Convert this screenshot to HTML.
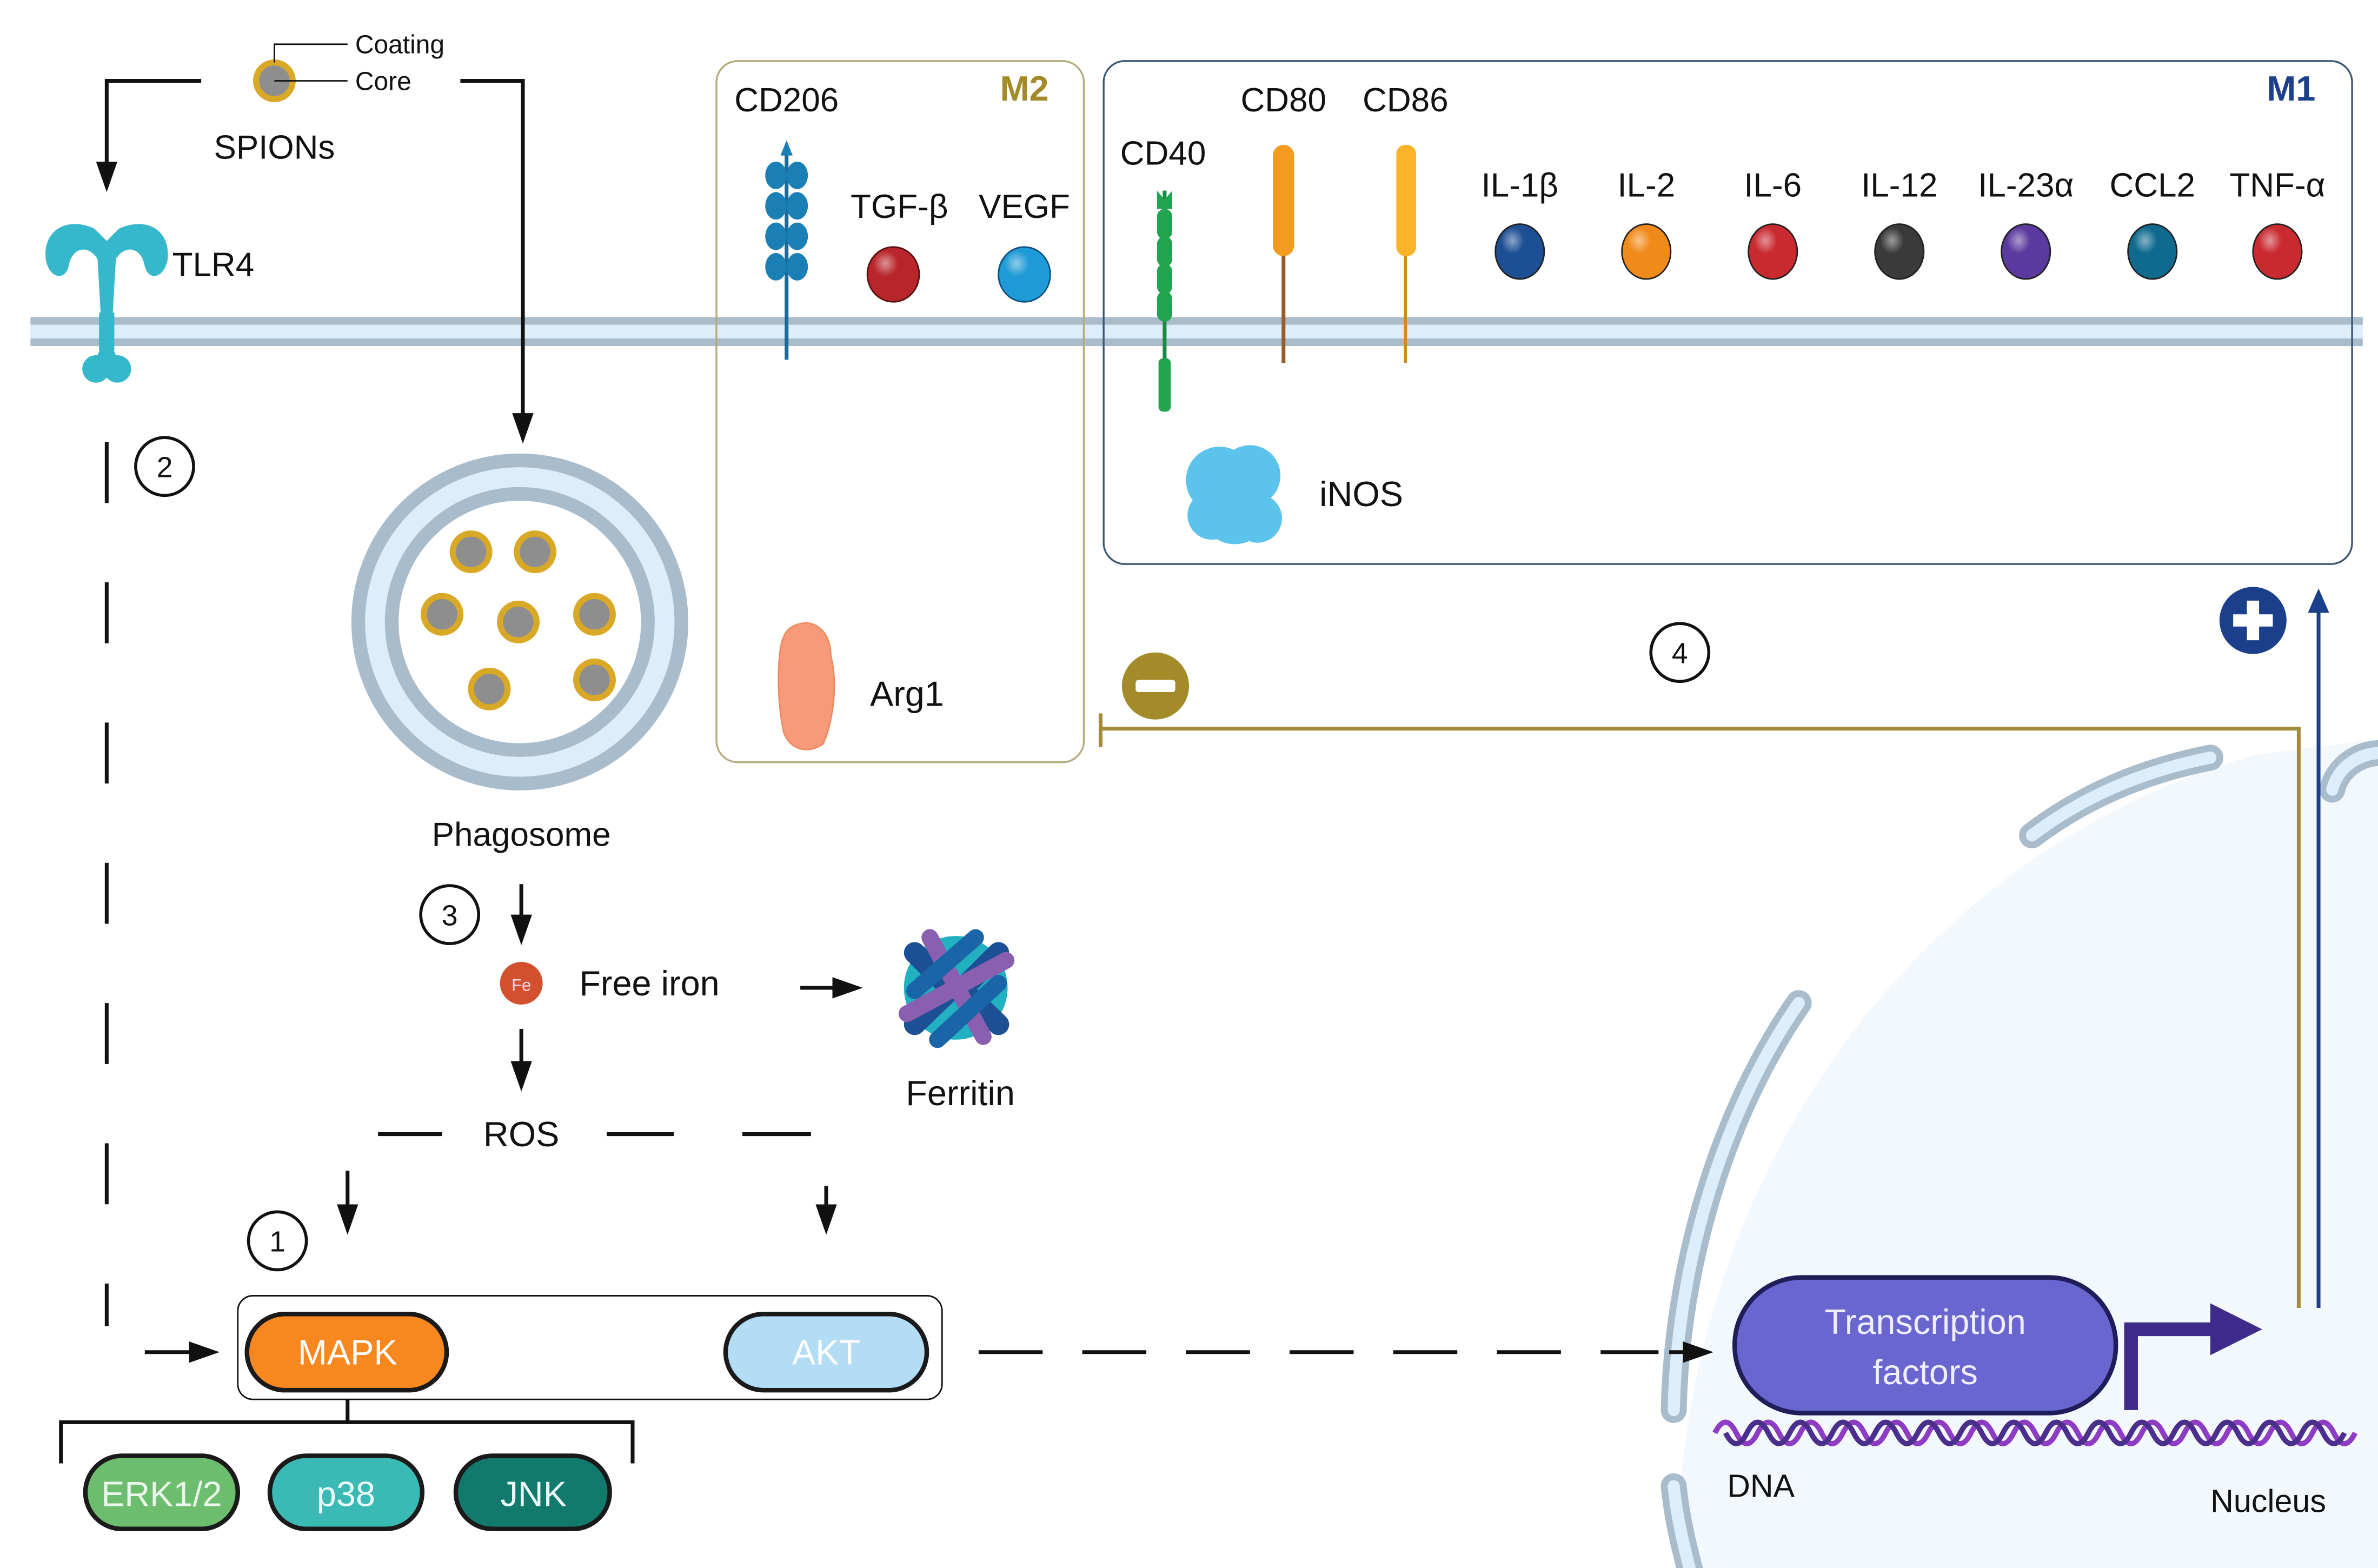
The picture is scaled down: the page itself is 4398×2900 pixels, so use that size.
<!DOCTYPE html>
<html><head><meta charset="utf-8"><style>
html,body{margin:0;padding:0;background:#fff;}
svg{display:block;}
text{font-family:"Liberation Sans",sans-serif;fill:#111;}
</style></head><body>
<svg width="4398" height="2900" viewBox="0 0 1560 1028.6" xmlns="http://www.w3.org/2000/svg">
<defs>
<marker id="ah" markerWidth="20" markerHeight="16" refX="16" refY="8" orient="auto" markerUnits="userSpaceOnUse" viewBox="0 0 20 16"><path d="M0,1 L20,8 L0,15 z" fill="#111"/></marker>
<marker id="ahb" markerWidth="16" markerHeight="14" refX="12" refY="7" orient="auto" markerUnits="userSpaceOnUse" viewBox="0 0 16 14"><path d="M0,0 L16,7 L0,14 z" fill="#1b3f8a"/></marker>
<radialGradient id="gr" cx="0.35" cy="0.3" r="0.8"><stop offset="0" stop-color="#fff" stop-opacity="0.5"/><stop offset="0.3" stop-color="#fff" stop-opacity="0"/></radialGradient>
</defs>
<path d="M1100,1028.6 C1100,780 1250,560 1480,495 L1560,485 L1560,1028.6 Z" fill="#f3f8fd"/>
<g fill="none" stroke-linecap="round">
<path d="M1098,925 C1100,830 1130,730 1180,658" stroke="#a9bccb" stroke-width="17"/>
<path d="M1098,925 C1100,830 1130,730 1180,658" stroke="#dceefb" stroke-width="8"/>
<path d="M1333,548 C1370,520 1410,505 1450,497" stroke="#a9bccb" stroke-width="17"/>
<path d="M1333,548 C1370,520 1410,505 1450,497" stroke="#dceefb" stroke-width="8"/>
<path d="M1530,518 C1533,505 1545,495 1560,494" stroke="#a9bccb" stroke-width="17"/>
<path d="M1530,518 C1533,505 1545,495 1560,494" stroke="#dceefb" stroke-width="8"/>
<path d="M1098,975 C1100,995 1104,1012 1110,1035" stroke="#a9bccb" stroke-width="17"/>
<path d="M1098,975 C1100,995 1104,1012 1110,1035" stroke="#dceefb" stroke-width="8"/>
</g>
<rect x="20" y="209" width="1530" height="17" fill="#ddeefa"/>
<rect x="20" y="208" width="1530" height="5" fill="#a9bccb"/>
<rect x="20" y="222" width="1530" height="5" fill="#a9bccb"/>
<rect x="470" y="40" width="241" height="460" rx="14" fill="none" stroke="#b5a97a" stroke-width="1.2"/>
<text x="672" y="66" font-size="23" font-weight="bold" style="fill:#a38b2a" text-anchor="middle">M2</text>
<rect x="724" y="40" width="819" height="330" rx="14" fill="none" stroke="#3b5778" stroke-width="1.2"/>
<text x="1503" y="66" font-size="23" font-weight="bold" style="fill:#1b3f8a" text-anchor="middle">M1</text>
<circle cx="180" cy="53" r="12" fill="#8e8e8e" stroke="#d9a826" stroke-width="4"/>
<path d="M180,41 V29 H228 M180,53 H228" stroke="#111" stroke-width="1" fill="none"/>
<text x="233" y="35" font-size="17">Coating</text>
<text x="233" y="59" font-size="17">Core</text>
<text x="180" y="104" font-size="22" text-anchor="middle">SPIONs</text>
<path d="M132,53 H70 V122" stroke="#111" stroke-width="2.5" fill="none" marker-end="url(#ah)"/>
<path d="M302,53 H343 V287" stroke="#111" stroke-width="2.5" fill="none" marker-end="url(#ah)"/>
<g fill="#35b7cc">
<path d="M30,170 C28,150 45,142 62,150 L70,158 L78,150 C95,142 112,150 110,170 C108,182 98,185 95,175 C93,162 82,160 76,170 L74,205 L66,205 L64,170 C58,160 47,162 45,175 C42,185 32,182 30,170 Z"/>
<rect x="65" y="205" width="10" height="25"/>
<circle cx="63" cy="242" r="9"/><circle cx="77" cy="242" r="9"/><circle cx="70" cy="234" r="6"/>
</g>
<text x="113" y="181" font-size="22">TLR4</text>
<path d="M70,290 V870" stroke="#111" stroke-width="2.5" stroke-dasharray="40,52" fill="none"/>
<path d="M95,887 H140" stroke="#111" stroke-width="2.5" marker-end="url(#ah)"/>
<g font-size="19" text-anchor="middle">
<circle cx="108" cy="306" r="19" fill="#fff" stroke="#111" stroke-width="2"/><text x="108" y="313">2</text>
<circle cx="295" cy="600" r="19" fill="#fff" stroke="#111" stroke-width="2"/><text x="295" y="607">3</text>
<circle cx="182" cy="814" r="19" fill="#fff" stroke="#111" stroke-width="2"/><text x="182" y="821">1</text>
<circle cx="1102" cy="428" r="19" fill="#fff" stroke="#111" stroke-width="2"/><text x="1102" y="435">4</text>
</g>
<circle cx="341" cy="408" r="106" fill="#ddeefa" stroke="#a9bccb" stroke-width="9"/>
<circle cx="341" cy="408" r="84" fill="#fff" stroke="#a9bccb" stroke-width="9"/>
<g fill="#8e8e8e" stroke="#d9a826" stroke-width="4">
<circle cx="309" cy="362" r="12"/><circle cx="351" cy="362" r="12"/><circle cx="290" cy="403" r="12"/>
<circle cx="340" cy="408" r="12"/><circle cx="390" cy="403" r="12"/><circle cx="321" cy="452" r="12"/><circle cx="390" cy="446" r="12"/>
</g>
<text x="342" y="555" font-size="22" text-anchor="middle">Phagosome</text>
<path d="M342,580 V616" stroke="#111" stroke-width="2.5" marker-end="url(#ah)"/>
<circle cx="342" cy="645" r="14" fill="#d2502e"/>
<text x="342" y="650" font-size="11" text-anchor="middle" style="fill:#fde">Fe</text>
<text x="380" y="653" font-size="23">Free iron</text>
<path d="M525,648 H562" stroke="#111" stroke-width="2.5" marker-end="url(#ah)"/>
<g stroke-linecap="round" fill="none">
<circle cx="627" cy="648" r="34" fill="#21b1c0" stroke="none"/>
<path d="M600,625 L625,650 M655,625 L630,650 M600,672 L625,648 M655,672 L630,648" stroke="#1d4f94" stroke-width="14"/>
<path d="M610,615 L645,680 M660,630 L595,665" stroke="#8a5fb0" stroke-width="11"/>
<path d="M640,615 L600,650 M615,682 L655,645" stroke="#1a65a8" stroke-width="11"/>
</g>
<text x="630" y="725" font-size="23" text-anchor="middle">Ferritin</text>
<path d="M342,675 V712" stroke="#111" stroke-width="2.5" marker-end="url(#ah)"/>
<text x="342" y="752" font-size="23" text-anchor="middle">ROS</text>
<path d="M248,744 H290 M398,744 H442 M487,744 H532" stroke="#111" stroke-width="2.5"/>
<path d="M228,768 V806" stroke="#111" stroke-width="2.5" marker-end="url(#ah)"/>
<path d="M542,778 V806" stroke="#111" stroke-width="2.5" marker-end="url(#ah)"/>
<rect x="156" y="850" width="462" height="68" rx="10" fill="#fff" stroke="#111" stroke-width="1"/>
<rect x="162" y="862" width="131" height="50" rx="25" fill="#f7871f" stroke="#1a1a1a" stroke-width="3"/>
<text x="228" y="895" font-size="23" text-anchor="middle" style="fill:#fff">MAPK</text>
<rect x="476" y="862" width="132" height="50" rx="25" fill="#b3dcf5" stroke="#1a1a1a" stroke-width="3"/>
<text x="542" y="895" font-size="23" text-anchor="middle" style="fill:#fff">AKT</text>
<path d="M228,918 V933 M40,960 V933 H415 V960" stroke="#111" stroke-width="2.5" fill="none"/>
<rect x="56" y="955" width="100" height="48" rx="24" fill="#6dbd6f" stroke="#1a1a1a" stroke-width="3"/>
<text x="106" y="988" font-size="23" text-anchor="middle" style="fill:#eaf6ea">ERK1/2</text>
<rect x="177" y="955" width="100" height="48" rx="24" fill="#3bb9b4" stroke="#1a1a1a" stroke-width="3"/>
<text x="227" y="988" font-size="23" text-anchor="middle" style="fill:#eafaf9">p38</text>
<rect x="299" y="955" width="101" height="48" rx="24" fill="#127a6d" stroke="#1a1a1a" stroke-width="3"/>
<text x="350" y="988" font-size="23" text-anchor="middle" style="fill:#eafaf9">JNK</text>
<path d="M642,887 H1088" stroke="#111" stroke-width="2.5" stroke-dasharray="42,26" fill="none"/>
<path d="M1095,887 H1120" stroke="#111" stroke-width="2.5" marker-end="url(#ah)"/>
<path d="M1125,940 q7,-14 14,0 t14,0 t14,0 t14,0 t14,0 t14,0 t14,0 t14,0 t14,0 t14,0 t14,0 t14,0 t14,0 t14,0 t14,0 t14,0 t14,0 t14,0 t14,0 t14,0 t14,0 t14,0 t14,0 t14,0 t14,0 t14,0 t14,0 t14,0 t14,0 t14,0" stroke="#8f3cc4" stroke-width="3.5" fill="none" transform="translate(1125,940) scale(1,1) translate(-1125,-940)"/>
<path d="M1132,940 q7,14 14,0 t14,0 t14,0 t14,0 t14,0 t14,0 t14,0 t14,0 t14,0 t14,0 t14,0 t14,0 t14,0 t14,0 t14,0 t14,0 t14,0 t14,0 t14,0 t14,0 t14,0 t14,0 t14,0 t14,0 t14,0 t14,0 t14,0 t14,0 t14,0" stroke="#4a2f8c" stroke-width="3.5" fill="none"/>
<rect x="1138" y="838" width="250" height="89" rx="44" fill="#6a66d0" stroke="#1f1e5a" stroke-width="3"/>
<text x="1263" y="875" font-size="23" text-anchor="middle" style="fill:#eef">Transcription</text>
<text x="1263" y="908" font-size="23" text-anchor="middle" style="fill:#eef">factors</text>
<path d="M1398,925 V872 H1455" stroke="#3d2a8a" stroke-width="9" fill="none"/>
<path d="M1450,855 L1484,872 L1450,889 Z" fill="#3d2a8a"/>
<text x="1133" y="982" font-size="21">DNA</text>
<text x="1488" y="992" font-size="21" text-anchor="middle">Nucleus</text>
<path d="M1508,858 V478 H722 M722,468 V490" stroke="#a38b3a" stroke-width="2.5" fill="none"/>
<circle cx="758" cy="450" r="22" fill="#a38b2a"/>
<rect x="745" y="446" width="26" height="8" rx="2" fill="#fff"/>
<path d="M1521,858 V390" stroke="#1b3f8a" stroke-width="2.5" marker-end="url(#ahb)"/>
<circle cx="1478" cy="407" r="22" fill="#1b3f8a"/>
<rect x="1465" y="403" width="26" height="8" fill="#fff"/><rect x="1474" y="394" width="8" height="26" fill="#fff"/>
<text x="516" y="73" font-size="22" text-anchor="middle">CD206</text>
<line x1="516" y1="95" x2="516" y2="236" stroke="#1a6a9a" stroke-width="2.5"/>
<g fill="#1a7fb5">
<path d="M516,92 l4,10 h-8 z"/>
<ellipse cx="509" cy="115" rx="7" ry="9"/><ellipse cx="523" cy="115" rx="7" ry="9"/>
<ellipse cx="509" cy="135" rx="7" ry="9"/><ellipse cx="523" cy="135" rx="7" ry="9"/>
<ellipse cx="509" cy="155" rx="7" ry="9"/><ellipse cx="523" cy="155" rx="7" ry="9"/>
<ellipse cx="509" cy="175" rx="7" ry="9"/><ellipse cx="523" cy="175" rx="7" ry="9"/>
</g>
<text x="590" y="143" font-size="22" text-anchor="middle">TGF-β</text>
<text x="672" y="143" font-size="22" text-anchor="middle">VEGF</text>
<ellipse cx="586" cy="180" rx="17" ry="18" fill="#b8252a" stroke="#5a1010" stroke-width="1"/><ellipse cx="586" cy="180" rx="17" ry="18" fill="url(#gr)"/>
<ellipse cx="672" cy="180" rx="17" ry="18" fill="#1e9ad6" stroke="#0f4f80" stroke-width="1"/><ellipse cx="672" cy="180" rx="17" ry="18" fill="url(#gr)"/>
<path d="M522,410 C535,405 545,415 545,430 C550,450 546,475 540,488 C530,495 518,492 514,480 C510,460 510,440 512,425 C514,415 517,412 522,410 Z" fill="#f79a7a" stroke="#f08a60" stroke-width="1"/>
<text x="595" y="463" font-size="23" text-anchor="middle">Arg1</text>
<text x="763" y="108" font-size="22" text-anchor="middle">CD40</text>
<line x1="764" y1="125" x2="764" y2="270" stroke="#1a8a45" stroke-width="2.5"/>
<g fill="#22a350">
<path d="M759,125 l5,6 l5,-6 v12 h-10z"/>
<rect x="759" y="137" width="10" height="20" rx="5"/><rect x="759" y="155" width="10" height="20" rx="5"/>
<rect x="759" y="173" width="10" height="20" rx="5"/><rect x="759" y="191" width="10" height="20" rx="5"/>
<rect x="760" y="235" width="8" height="35" rx="3"/>
</g>
<text x="842" y="73" font-size="22" text-anchor="middle">CD80</text>
<line x1="842" y1="140" x2="842" y2="238" stroke="#9a5a2a" stroke-width="2.5"/>
<rect x="835" y="95" width="14" height="45" rx="7" fill="#f39c1f"/><rect x="835" y="128" width="14" height="40" rx="7" fill="#f39c1f"/>
<text x="922" y="73" font-size="22" text-anchor="middle">CD86</text>
<line x1="922" y1="140" x2="922" y2="238" stroke="#d08a20" stroke-width="2"/>
<rect x="916" y="95" width="13" height="45" rx="6" fill="#fbb42a"/><rect x="916" y="128" width="13" height="40" rx="6" fill="#fbb42a"/>
<g fill="#5cc4ec">
<circle cx="800" cy="315" r="22"/><circle cx="820" cy="312" r="20"/><circle cx="810" cy="335" r="22"/><circle cx="795" cy="338" r="16"/><circle cx="825" cy="340" r="16"/>
</g>
<text x="893" y="332" font-size="23" text-anchor="middle">iNOS</text>
<g font-size="22" text-anchor="middle">
<text x="997" y="129">IL-1β</text><text x="1080" y="129">IL-2</text><text x="1163" y="129">IL-6</text>
<text x="1246" y="129">IL-12</text><text x="1329" y="129">IL-23α</text><text x="1412" y="129">CCL2</text><text x="1494" y="129">TNF-α</text>
</g>
<g stroke="#222" stroke-width="1">
<ellipse cx="997" cy="165" rx="16" ry="18" fill="#1d4f94"/>
<ellipse cx="1080" cy="165" rx="16" ry="18" fill="#f08a1a"/>
<ellipse cx="1163" cy="165" rx="16" ry="18" fill="#c92a2f"/>
<ellipse cx="1246" cy="165" rx="16" ry="18" fill="#3a3a3a"/>
<ellipse cx="1329" cy="165" rx="16" ry="18" fill="#5a3a9e"/>
<ellipse cx="1412" cy="165" rx="16" ry="18" fill="#106a8e"/>
<ellipse cx="1494" cy="165" rx="16" ry="18" fill="#c92a2f"/>
</g>
<g fill="url(#gr)">
<ellipse cx="997" cy="165" rx="16" ry="18"/><ellipse cx="1080" cy="165" rx="16" ry="18"/><ellipse cx="1163" cy="165" rx="16" ry="18"/><ellipse cx="1246" cy="165" rx="16" ry="18"/><ellipse cx="1329" cy="165" rx="16" ry="18"/><ellipse cx="1412" cy="165" rx="16" ry="18"/><ellipse cx="1494" cy="165" rx="16" ry="18"/>
</g>
</svg>
</body></html>
